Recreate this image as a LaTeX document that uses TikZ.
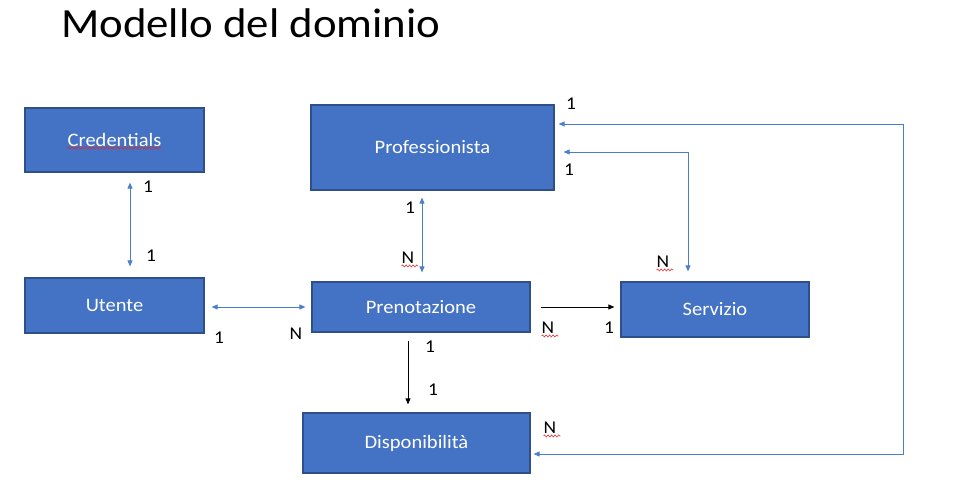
\documentclass[tikz,border=0pt]{standalone}
\usepackage{fontspec}
\setmainfont[FakeStretch=1.08]{Carlito}
\usetikzlibrary{arrows.meta,decorations.pathmorphing}
\definecolor{boxfill}{HTML}{4472C4}
\definecolor{boxline}{HTML}{2F4F8A}
\definecolor{linkblue}{HTML}{4A7DCB}
\definecolor{squig}{HTML}{E0282E}
\tikzset{
  entity/.style={draw=boxline,line width=1.2pt,fill=boxfill,text=white,
    font=\fontsize{19}{22}\selectfont,inner sep=0pt},
  blue link/.style={draw=linkblue,line width=0.8pt,
    {Triangle[length=6pt,width=5pt]}-{Triangle[length=6pt,width=5pt]}},
  black link/.style={draw=black,line width=0.8pt,-{Triangle[length=6pt,width=5pt]}},
  card/.style={font=\fontsize{18}{20}\selectfont,text=black,inner sep=0pt},
  wavy/.style={draw=squig,line width=0.6pt,decorate,
    decoration={snake,amplitude=1pt,segment length=3.5pt}}
}
\begin{document}
\begin{tikzpicture}[x=1pt,y=-1pt]
\useasboundingbox (0,0) rectangle (964,494);
% title
\node[anchor=base west,font=\fontsize{41.5}{46}\selectfont,inner sep=0pt] (title) at (61,38) {Modello del dominio};
% entities
\node[entity,minimum width=179pt,minimum height=64pt] (cred) at (114.5,140) {Credentials};
\node[entity,minimum width=243pt,minimum height=85pt] (prof) at (432.5,147.5) {Professionista};
\node[entity,minimum width=179pt,minimum height=55pt] (ute) at (114.5,305.5) {Utente};
\node[entity,minimum width=218pt,minimum height=50pt] (pren) at (421,307) {Prenotazione};
\node[entity,minimum width=188pt,minimum height=55pt] (serv) at (715,309.5) {Servizio};
\node[entity,minimum width=227pt,minimum height=60pt] (disp) at (416.5,443) {Disponibilità};
% spell-check squiggle
\draw[wavy] ([xshift=-47pt,yshift=-8pt]cred.center) -- ([xshift=47pt,yshift=-8pt]cred.center);
% connectors
\draw[blue link] ([xshift=15.5pt,yshift=-10pt]cred.south) -- ([xshift=15.5pt,yshift=11pt]ute.north);
\draw[blue link] ([xshift=7pt,yshift=-1.5pt]ute.east) -- ([xshift=-6pt]pren.west);
\draw[blue link] ([xshift=-10.5pt,yshift=-7pt]prof.south) -- ([xshift=1pt,yshift=9pt]pren.north);
\draw[black link] ([xshift=10pt]pren.east) -- ([xshift=-6pt,yshift=2.5pt]serv.west);
\draw[black link] ([xshift=-13pt,yshift=-8pt]pren.south) -- ([xshift=-8.5pt,yshift=8pt]disp.north);
\coordinate (sp) at (688,152);
\draw[blue link] ([xshift=9pt,yshift=-4.5pt]prof.east) -- (sp) -- ([xshift=-27pt,yshift=10pt]serv.north);
\coordinate (dr1) at (903,124);
\coordinate (dr2) at (903,454);
\draw[blue link] ([xshift=4pt,yshift=23.5pt]prof.east) -- (dr1) -- (dr2) -- ([xshift=3pt,yshift=-11pt]disp.east);
% cardinalities
\node[card] (c1) at (148,187) {1};
\node[card] (c2) at (151,256) {1};
\node[card] (c3) at (219,338) {1};
\node[card] (c4) at (296,334) {N};
\node[card] (c5) at (410,208) {1};
\node[card] (c6) at (408,258) {N};
\node[card] (c7) at (548,328) {N};
\node[card] (c8) at (609,328) {1};
\node[card] (c9) at (430,347) {1};
\node[card] (c10) at (433,390) {1};
\node[card] (c11) at (571,104) {1};
\node[card] (c12) at (569,170) {1};
\node[card] (c13) at (663,262) {N};
\node[card] (c14) at (550,428) {N};
\foreach \n in {c6,c7,c13,c14}{
  \draw[wavy] ([xshift=0pt,yshift=-2pt]\n.south west) -- ([xshift=4pt,yshift=-2pt]\n.south east);
}
\end{tikzpicture}
\end{document}
